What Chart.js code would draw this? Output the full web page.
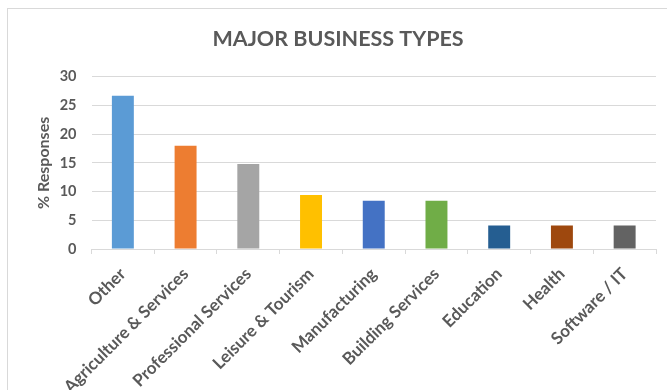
<!DOCTYPE html>
<html>
<head>
<meta charset="utf-8">
<script src="https://cdn.jsdelivr.net/npm/chart.js@4.4.0/dist/chart.umd.min.js"></script>
<style>
  html, body { margin: 0; padding: 0; background: #fff; overflow: hidden; }
  #frame { position: absolute; left: 7px; top: 8px; width: 700px; height: 420px; border: 1px solid #d9d9d9; }
  #wrap { position: absolute; left: 0; top: 0; width: 667px; height: 390px; }
</style>
</head>
<body>
<div id="frame"></div>
<div id="wrap"><canvas id="bar_chart" width="667" height="390"></canvas></div>
<script>
// 業種
const business_types = [
  'Other',
  'Agriculture & Services',
  'Professional Services',
  'Leisure & Tourism',
  'Manufacturing',
  'Building Services',
  'Education',
  'Health',
  'Software / IT',
]
// 回答の割合 (%)
const responses = [26.7, 18.0, 14.8, 9.4, 8.4, 8.4, 4.1, 4.1, 4.1]
// 棒の色
const bar_colors = [
  '#5b9bd5',
  '#ed7d31',
  '#a5a5a5',
  '#ffc000',
  '#4472c4',
  '#70ad47',
  '#255e91',
  '#9e480e',
  '#636363',
]
// 縦軸の目盛り
const y_ticks = [0, 5, 10, 15, 20, 25, 30]

const grey = '#595959'
const grid_color = '#d9d9d9'
const font_family = 'Lato, "Open Sans", sans-serif'

const ctx = document.getElementById('bar_chart').getContext('2d')
const bar_chart = new Chart(ctx, {
  type: 'bar',
  data: {
    labels: business_types,
    datasets: [
      {
        label: '% Responses',
        data: responses,
        backgroundColor: bar_colors,
        borderWidth: 0,
        categoryPercentage: 1,
        barPercentage: 0.35,
      },
    ],
  },
  options: {
    responsive: false,
    animation: false,
    devicePixelRatio: 1,
    layout: { padding: { left: 20, right: 11, top: 0, bottom: 0 } },
    plugins: {
      legend: { display: false },
      tooltip: { enabled: false },
      title: {
        display: true,
        text: 'MAJOR BUSINESS TYPES',
        color: grey,
        font: { family: font_family, size: 21.5, weight: 'bold' },
        padding: { top: 26, bottom: 25 },
      },
    },
    scales: {
      x: {
        grid: {
          offset: true,
          drawOnChartArea: false,
          color: grid_color,
          tickLength: 5,
        },
        border: { color: grid_color },
        ticks: {
          color: grey,
          font: { family: font_family, size: 17, weight: 'bold' },
          minRotation: 45,
          maxRotation: 45,
          autoSkip: false,
          padding: 10,
          labelOffset: 0,
        },
        afterFit: (scale) => {
          scale.height = 141
        },
      },
      y: {
        min: 0,
        max: 30,
        afterBuildTicks: (scale) => {
          scale.ticks = y_ticks.map((v) => ({ value: v }))
        },
        grid: { color: grid_color, drawTicks: false },
        border: { display: false },
        ticks: {
          color: grey,
          font: { family: font_family, size: 14.5, weight: 'bold' },
          padding: 15,
        },
        title: {
          display: true,
          text: '% Responses',
          color: grey,
          font: { family: font_family, size: 16, weight: 'bold' },
          padding: { top: 14, bottom: 0 },
        },
        afterFit: (scale) => {
          scale.width = 71.5
        },
      },
    },
  },
})
</script>
</body>
</html>
